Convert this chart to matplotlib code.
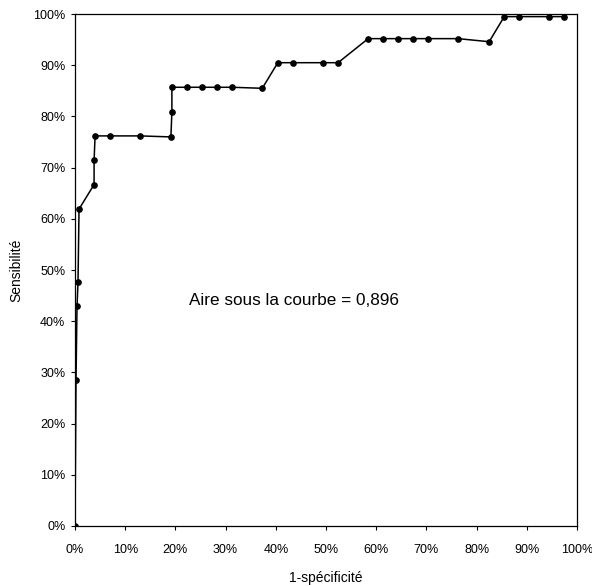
import matplotlib.pyplot as plt
from matplotlib.ticker import PercentFormatter

plt.rcParams['font.family'] = ['Liberation Sans', 'DejaVu Sans']

# ROC curve points (1-specificity, sensitivity), in %
fpr = [0.0, 0.2, 0.4, 0.6, 0.8, 3.8, 3.8, 4.0, 7.0, 13.0, 19.1, 19.3, 19.3,
       22.3, 25.3, 28.3, 31.3, 37.3, 40.4, 43.4, 49.4, 52.4, 58.4, 61.4,
       64.3, 67.3, 70.3, 76.3, 82.5, 85.5, 88.4, 94.4, 97.4]
tpr = [0.0, 28.6, 42.9, 47.6, 61.9, 66.7, 71.4, 76.2, 76.2, 76.2, 76.0, 80.9, 85.7,
       85.7, 85.7, 85.7, 85.7, 85.5, 90.5, 90.5, 90.5, 90.5, 95.2, 95.2,
       95.2, 95.2, 95.2, 95.2, 94.6, 99.5, 99.5, 99.5, 99.5]
auc_text = "Aire sous la courbe = 0,896"

fig = plt.figure(figsize=(5.92, 5.86), dpi=100)
ax = fig.add_axes([0.1267, 0.1024, 0.848, 0.8736])

ax.plot(fpr, tpr, color='black', lw=1.1, marker='o', markersize=3.8)

ax.set_xlim(0, 100)
ax.set_ylim(0, 100)
ax.set_xticks(range(0, 101, 10))
ax.set_yticks(range(0, 101, 10))
ax.xaxis.set_major_formatter(PercentFormatter(decimals=0))
ax.yaxis.set_major_formatter(PercentFormatter(decimals=0))
ax.tick_params(labelsize=9, length=3, width=0.8, direction='out')
ax.tick_params(axis='x', pad=10)
ax.tick_params(axis='y', pad=4)
for sp in ax.spines.values():
    sp.set_linewidth(0.9)

ax.set_xlabel('1-spécificité', fontsize=10, labelpad=11)
ax.set_ylabel('Sensibilité', fontsize=10, labelpad=7)

ax.text(22.7, 44, auc_text, fontsize=12.3, va='center', ha='left')

fig.savefig('out.png', dpi=100)
